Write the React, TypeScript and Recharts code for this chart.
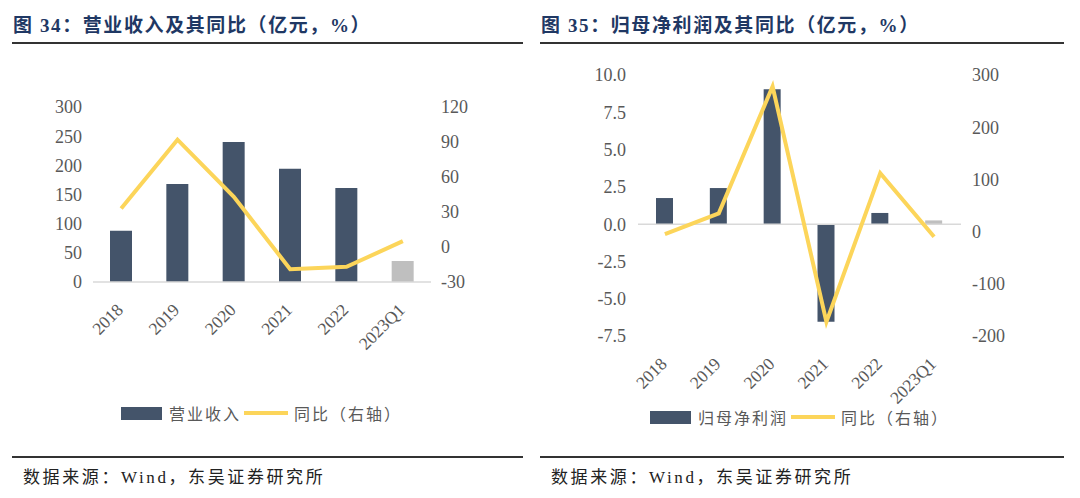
import { ComposedChart, Bar, Line, XAxis, YAxis, Cell, ReferenceLine } from 'recharts'

const categories = ['2018', '2019', '2020', '2021', '2022', '2023Q1']
const revenue = [88, 168, 240, 194, 161, 36]
const revenueYoy = [33, 92, 43, -19, -17, 5]
const netProfit = [1.75, 2.42, 9.05, -6.55, 0.75, 0.25]
const profitYoy = [-5, 35, 278, -173, 112, -10]

const revLeftTicks = [0, 50, 100, 150, 200, 250, 300]
const revRightTicks = [-30, 0, 30, 60, 90, 120]
const profitLeftTicks = [-7.5, -5, -2.5, 0, 2.5, 5, 7.5, 10]
const profitRightTicks = [-200, -100, 0, 100, 200, 300]

const BAR = '#44546a'
const GREY_BAR = '#bfbfbf'
const LINE = '#fcd55a'
const TEXT = '#595959'
const SERIF = "'Liberation Serif', 'Noto Sans CJK SC', serif"
const CJK = "'Noto Sans CJK SC', sans-serif"

const revData = categories.map((c, i) => ({ name: c, value: revenue[i], yoy: revenueYoy[i] }))
const profitData = categories.map((c, i) => ({ name: c, value: netProfit[i], yoy: profitYoy[i] }))

function XTick(props: any) {
  const { x, y, payload } = props
  return (
    <g transform={`translate(${x + 3},${y + 29})`}>
      <text textAnchor="end" transform="rotate(-45)" fill={TEXT} fontSize={17.5} fontFamily={SERIF}>
        {payload.value}
      </text>
    </g>
  )
}

const yTick = { fill: TEXT, fontSize: 18, fontFamily: SERIF }

function Legend({ left, top, label }: { left: number; top: number; label: string }) {
  return (
    <div style={{ position: 'absolute', left, top, display: 'flex', alignItems: 'center', height: 20, fontFamily: CJK, fontSize: 16, color: TEXT, letterSpacing: 2, whiteSpace: 'nowrap' }}>
      <span style={{ display: 'inline-block', width: 41, height: 13, background: BAR, marginRight: 7 }} />
      <span>{label}</span>
      <span style={{ display: 'inline-block', width: 44, height: 4, background: LINE, margin: '0 6px 0 3px' }} />
      <span>同比（右轴）</span>
    </div>
  )
}

function Header({ left, width, title }: { left: number; width: number; title: string }) {
  return (
    <>
      <div style={{ position: 'absolute', left: left, top: 10, fontFamily: SERIF, fontWeight: 'bold', fontSize: 19, color: '#1f3864', whiteSpace: 'nowrap', letterSpacing: 1.6 }}>
        {title}
      </div>
      <div style={{ position: 'absolute', left: left - 1, top: 42, width, height: 2, background: '#333' }} />
      <div style={{ position: 'absolute', left: left - 1, top: 456, width, height: 2, background: '#333' }} />
      <div style={{ position: 'absolute', left: left + 10, top: 463, fontFamily: SERIF, fontSize: 17, color: '#222', whiteSpace: 'nowrap', letterSpacing: 2.6 }}>
        数据来源：Wind，东吴证券研究所
      </div>
    </>
  )
}

export default function App() {
  return (
    <div style={{ position: 'absolute', left: 0, top: 0, width: 1080, height: 498, background: '#fff', overflow: 'hidden' }}>
      <Header left={13} width={511} title="图 34：营业收入及其同比（亿元，%）" />
      <Header left={541} width={524} title="图 35：归母净利润及其同比（亿元，%）" />

      <div style={{ position: 'absolute', left: 0, top: 60 }}>
        <ComposedChart width={540} height={400} data={revData} margin={{ top: 47, right: 49, bottom: 118, left: 33 }}>
          <XAxis dataKey="name" height={60} tick={<XTick />} tickLine={false} tickSize={0} tickMargin={0} axisLine={{ stroke: '#d9d9d9', strokeWidth: 1.5 }} interval={0} />
          <YAxis yAxisId="l" width={60} domain={[0, 300]} ticks={revLeftTicks} tick={yTick} axisLine={false} tickLine={false} tickSize={0} tickMargin={11} interval={0} />
          <YAxis yAxisId="r" orientation="right" width={60} domain={[-30, 120]} ticks={revRightTicks} tick={{ ...yTick, textAnchor: 'start' }} axisLine={false} tickLine={false} tickSize={0} tickMargin={10} interval={0} />
          <Bar yAxisId="l" dataKey="value" barSize={22} isAnimationActive={false}>
            {revData.map((d, i) => (
              <Cell key={d.name} fill={i === revData.length - 1 ? GREY_BAR : BAR} />
            ))}
          </Bar>
          <Line yAxisId="r" dataKey="yoy" stroke={LINE} strokeWidth={4} dot={false} activeDot={false} type="linear" isAnimationActive={false} />
        </ComposedChart>
      </div>
      <Legend left={121} top={403} label="营业收入" />

      <div style={{ position: 'absolute', left: 540, top: 60 }}>
        <ComposedChart width={540} height={400} data={profitData} margin={{ top: 15, right: 59, bottom: 64, left: 38 }}>
          <XAxis dataKey="name" height={60} tick={<XTick />} tickLine={false} tickSize={0} tickMargin={0} axisLine={false} interval={0} />
          <YAxis yAxisId="l" width={60} domain={[-7.5, 10]} ticks={profitLeftTicks} tickFormatter={(v: number) => v.toFixed(1)} tick={yTick} axisLine={false} tickLine={false} tickSize={0} tickMargin={12} interval={0} />
          <YAxis yAxisId="r" orientation="right" width={60} domain={[-200, 300]} ticks={profitRightTicks} tick={{ ...yTick, textAnchor: 'start' }} axisLine={false} tickLine={false} tickSize={0} tickMargin={11} interval={0} />
          <ReferenceLine yAxisId="l" y={0} stroke="#d9d9d9" strokeWidth={1.5} />
          <Bar yAxisId="l" dataKey="value" barSize={17} isAnimationActive={false}>
            {profitData.map((d, i) => (
              <Cell key={d.name} fill={i === profitData.length - 1 ? GREY_BAR : BAR} />
            ))}
          </Bar>
          <Line yAxisId="r" dataKey="yoy" stroke={LINE} strokeWidth={4} dot={false} activeDot={false} type="linear" isAnimationActive={false} />
        </ComposedChart>
      </div>
      <Legend left={650} top={407} label="归母净利润" />
    </div>
  )
}
